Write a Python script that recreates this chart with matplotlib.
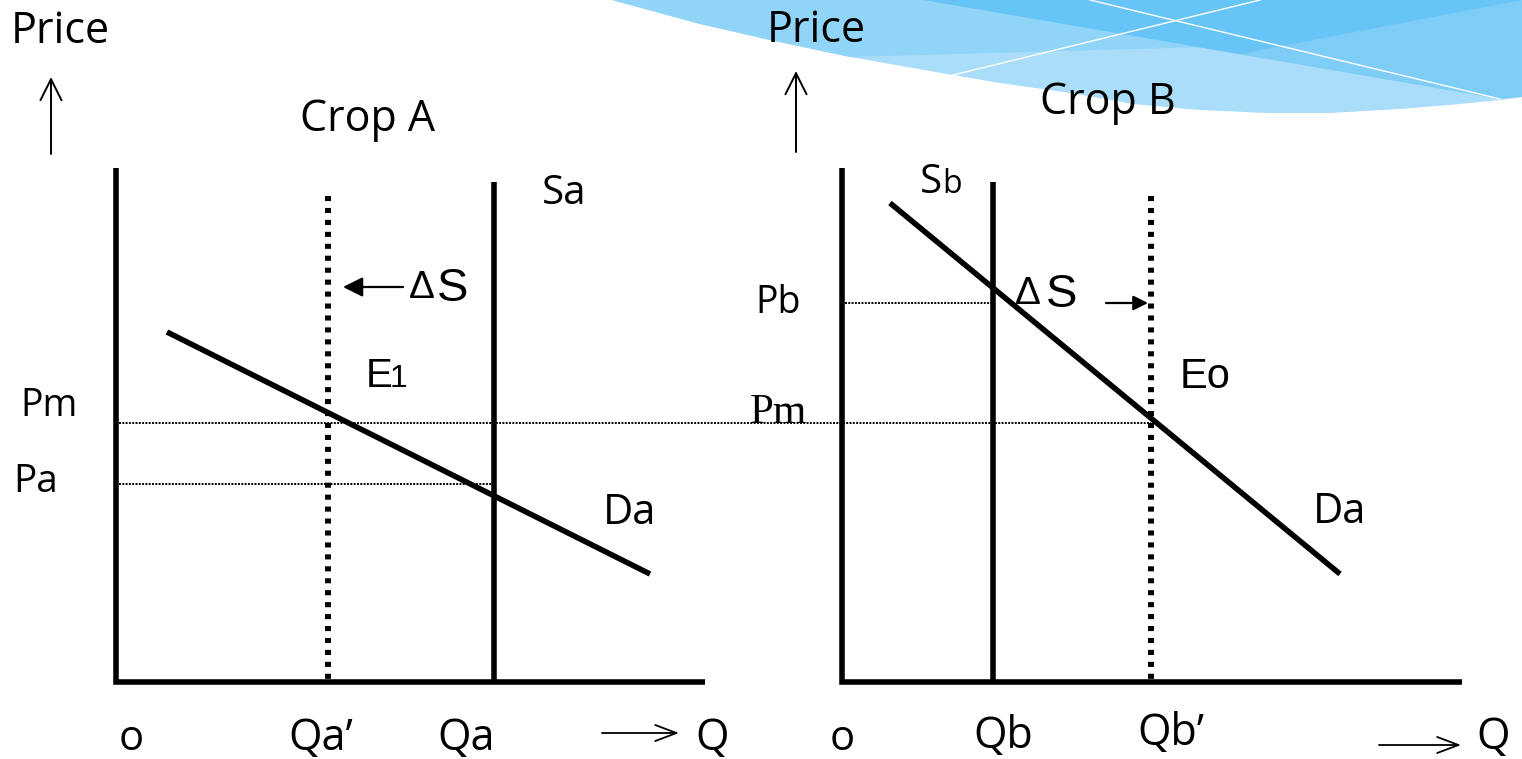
import matplotlib.pyplot as plt

# diagram space = pixel grid of the slide (x right, y down)
W, H = 1522, 759

# axes of the two panels
origin_x = [116, 842]
axis_end_x = [705, 1462]
axis_top_y = 168
axis_base_y = 682

# supply curves (vertical) and shifted supply (dotted)
supply_x = [494, 993]        # Sa, Sb
shifted_x = [328, 1151]      # Qa', Qb'

# demand curves
demand_a_x = [167, 650]
demand_a_y = [332, 574]
demand_b_x = [890, 1340]
demand_b_y = [203, 574]

# price levels
pm_y = 423
pa_y = 484
pb_y = 303

# decorative wave at the top right
wave_x = [612, 700, 770, 850, 953, 1000, 1071, 1133, 1200, 1267, 1330, 1400, 1460, 1500, 1522]
wave_y = [0, 24, 40, 57, 75, 83, 93, 104, 110, 113, 113, 109, 104, 100, 97]

fig = plt.figure(figsize=(15.22, 7.59), dpi=100)
ax = fig.add_axes([0, 0, 1, 1])
ax.set_xlim(0, W)
ax.set_ylim(H, 0)
ax.axis('off')

# --- wave decoration
ax.fill(wave_x + [1522], wave_y + [0], color='#a9ddfa', lw=0, zorder=0)
mid_x = wave_x[:4] + [1522, 1522]
mid_y = wave_y[:4] + [38, 0]
ax.fill(mid_x, mid_y, color='#90d4f8', lw=0, zorder=0)
ax.fill([924, 1500, 1522, 1522], [0, 99, 97, 0], color='#7ecdf7', lw=0, zorder=0)
ax.fill([924, 1240, 1522], [0, 54, 0], color='#67c4f7', lw=0, zorder=0)
ax.plot([953, 1260], [75, 0], color='white', lw=1, zorder=0)
ax.plot([1090, 1500], [0, 99], color='white', lw=1, zorder=0)

thick = 4.0
dot_style = (0, (0.85, 1.15))
fine_dots = (0, (1, 0.7))

# --- price guide lines (thin dotted)
ax.plot([origin_x[0] + 3, shifted_x[1]], [pm_y, pm_y], color='black', lw=1.4, ls=fine_dots)
ax.plot([origin_x[0] + 3, supply_x[0]], [pa_y, pa_y], color='black', lw=1.4, ls=fine_dots)
ax.plot([origin_x[1] + 3, supply_x[1]], [pb_y, pb_y], color='black', lw=1.4, ls=fine_dots)

# --- axes
for x0, x1 in zip(origin_x, axis_end_x):
    ax.plot([x0, x0, x1], [axis_top_y, axis_base_y, axis_base_y], color='black',
            lw=thick, solid_joinstyle='miter', solid_capstyle='butt')

# --- supply lines
for x in supply_x:
    ax.plot([x, x], [182, axis_base_y], color='black', lw=thick, solid_capstyle='butt')
for x in shifted_x:
    ax.plot([x, x], [196, axis_base_y], color='black', lw=4.3, ls=dot_style,
            dash_capstyle='butt')

# --- demand lines
ax.plot(demand_a_x, demand_a_y, color='black', lw=thick, solid_capstyle='butt')
ax.plot(demand_b_x, demand_b_y, color='black', lw=thick, solid_capstyle='butt')

# --- arrows
def arrow(x0, y0, x1, y1, style, scale, lw):
    ax.annotate('', xy=(x1, y1), xytext=(x0, y0),
                arrowprops=dict(arrowstyle=style, lw=lw, color='black',
                                shrinkA=0, shrinkB=0, mutation_scale=scale))

open_head = '->,head_length=0.4,head_width=0.2'
arrow(51, 154, 51, 77, open_head, 38, 1.4)
arrow(796, 152, 796, 71, open_head, 38, 1.4)
arrow(602, 733, 679, 733, '->,head_length=0.45,head_width=0.17', 34, 1.3)
arrow(1379, 745, 1461, 745, '->,head_length=0.45,head_width=0.17', 34, 1.3)
arrow(403, 287, 343, 287, '-|>,head_length=0.4,head_width=0.2', 30, 1.6)
arrow(1106, 303, 1148, 303, '-|>,head_length=0.4,head_width=0.2', 22, 1.6)

# --- text
sans = 'Open Sans'
arial = 'Liberation Sans'

def label(x, y, s, size, family=sans):
    ax.text(x, y, s, fontsize=size, family=family, va='baseline', ha='left', color='black')

label(11, 43, 'Price', 31)
label(767, 42, 'Price', 31)
label(300, 131, 'Crop A', 31)
label(1040, 114, 'Crop B', 31)

label(542, 204, 'Sa', 29)
label(920, 193, 'S', 29)
label(942, 193, 'b', 23)

label(409, 298, 'Δ', 28, arial)
label(437, 301, 'S', 34, arial)
label(1015, 304, 'Δ', 28, arial)
label(1046, 307, 'S', 34, arial)

label(366, 387, 'E', 29, arial)
label(390, 387, '1', 23, arial)
label(1180, 388, 'Eo', 30, arial)

label(20, 416, 'Pm', 27)
label(13, 492, 'Pa', 28)
label(755, 313, 'Pb', 27)
label(750, 423, 'Pm', 31, 'Liberation Serif')

label(603, 524, 'Da', 30)
label(1313, 523, 'Da', 30)

label(119, 750, 'o', 30)
label(288, 750, 'Qa\u2019', 31)
label(437, 750, 'Qa', 31)
label(695, 750, 'Q', 31)
label(830, 750, 'o', 30)
label(973, 748, 'Qb', 31)
label(1137, 745, 'Qb\u2019', 31)
label(1476, 749, 'Q', 31)

fig.savefig('out.png', dpi=100)
